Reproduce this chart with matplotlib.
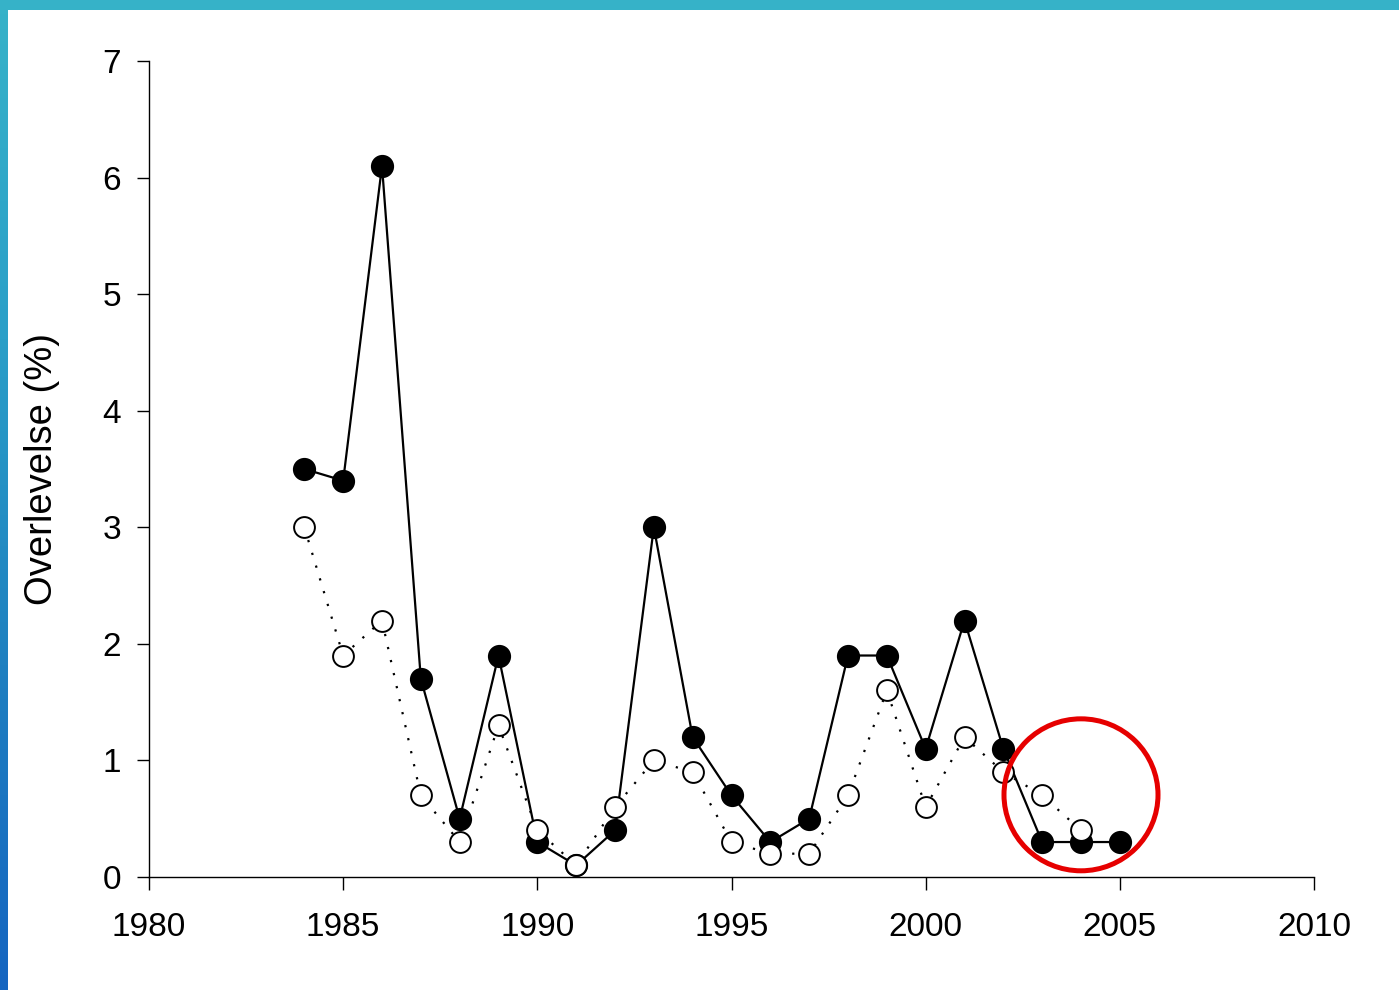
import matplotlib
matplotlib.use("Agg")
import matplotlib.pyplot as plt
import numpy as np
from matplotlib.patches import Ellipse, Rectangle
from matplotlib.colors import LinearSegmentedColormap

plt.rcParams['font.family'] = ['Liberation Sans', 'DejaVu Sans']

years_filled = [1984, 1985, 1986, 1987, 1988, 1989, 1990, 1991, 1992, 1993, 1994,
                1995, 1996, 1997, 1998, 1999, 2000, 2001, 2002, 2003, 2004, 2005]
survival_filled = [3.5, 3.4, 6.1, 1.7, 0.5, 1.9, 0.3, 0.1, 0.4, 3.0, 1.2,
                   0.7, 0.3, 0.5, 1.9, 1.9, 1.1, 2.2, 1.1, 0.3, 0.3, 0.3]

years_open = [1984, 1985, 1986, 1987, 1988, 1989, 1990, 1991, 1992, 1993, 1994,
              1995, 1996, 1997, 1998, 1999, 2000, 2001, 2002, 2003, 2004]
survival_open = [3.0, 1.9, 2.2, 0.7, 0.3, 1.3, 0.4, 0.1, 0.6, 1.0, 0.9,
                 0.3, 0.2, 0.2, 0.7, 1.6, 0.6, 1.2, 0.9, 0.7, 0.4]

x_ticks = [1980, 1985, 1990, 1995, 2000, 2005, 2010]
y_ticks = [0, 1, 2, 3, 4, 5, 6, 7]
ylabel = "Overlevelse (%)"

W, H = 1399, 990
fig = plt.figure(figsize=(W / 100, H / 100), dpi=100)

# decorative borders
fig.patches.append(Rectangle((0, 1 - 10 / H), 1, 10 / H, transform=fig.transFigure,
                             facecolor='#36b2c8', edgecolor='none', zorder=0))
bar_ax = fig.add_axes([0, 0, 8 / W, 1 - 10 / H])
cmap = LinearSegmentedColormap.from_list('g', ['#36b2c8', '#2a9fc8', '#1f80c0', '#1565c0'])
bar_ax.imshow(np.linspace(0, 1, 256).reshape(-1, 1), aspect='auto', cmap=cmap)
bar_ax.axis('off')

ax = fig.add_axes([149 / W, 1 - 877 / H, (1314 - 149) / W, (877 - 61) / H])

ax.plot(years_filled, survival_filled, '-', color='black', lw=1.6,
        marker='o', ms=15.5, mfc='black', mec='black', mew=1.2, zorder=3, clip_on=False)
ax.plot(years_open, survival_open, linestyle=(0, (1, 5)), color='black', lw=1.6, zorder=4,
        clip_on=False)
ax.plot(years_open, survival_open, 'o', ms=15, mfc='white', mec='black', mew=1.4,
        zorder=5, clip_on=False)

circ = Ellipse((2004, 0.705), width=2 * 77 / 38.83, height=2 * 76 / 116.6,
               fill=False, edgecolor='#e60000', lw=3.6, zorder=6, clip_on=False)
ax.add_patch(circ)

ax.set_xlim(1980, 2010)
ax.set_ylim(0, 7)
ax.set_xticks(x_ticks)
ax.set_yticks(y_ticks)
ax.spines['top'].set_visible(False)
ax.spines['right'].set_visible(False)
for s in ('left', 'bottom'):
    ax.spines[s].set_linewidth(1.0)
ax.tick_params(axis='both', direction='out', length=9, width=1.0, labelsize=24)
ax.tick_params(axis='y', pad=11)
ax.tick_params(axis='x', pad=16)
ax.set_ylabel(ylabel, fontsize=27.5, labelpad=31)

fig.savefig('out.png', dpi=100)
